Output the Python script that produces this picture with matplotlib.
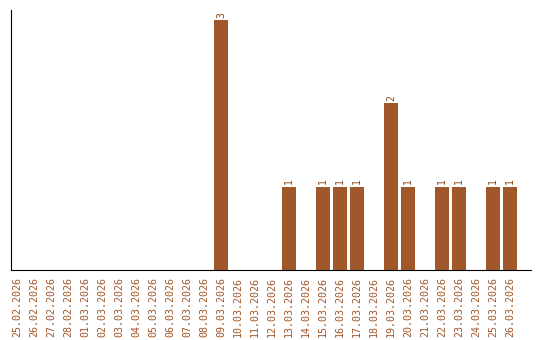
import matplotlib.pyplot as plt
import pandas as pd

dates = [d.strftime("%d.%m.%Y") for d in pd.date_range("2026-02-25", "2026-03-26")]
counts_by_date = {
    "09.03.2026": 3,
    "13.03.2026": 1,
    "15.03.2026": 1,
    "16.03.2026": 1,
    "17.03.2026": 1,
    "19.03.2026": 2,
    "20.03.2026": 1,
    "22.03.2026": 1,
    "23.03.2026": 1,
    "25.03.2026": 1,
    "26.03.2026": 1,
}
counts = [counts_by_date.get(d, 0) for d in dates]

color = "#A0572A"

fig = plt.figure(figsize=(5.4, 3.4), dpi=100)
ax = fig.add_axes([11 / 540, 70 / 340, 520 / 540, 260 / 340])

x = list(range(len(dates)))
ax.bar(x, counts, width=14 / 17, color=color)
for xi, c in zip(x, counts):
    if c > 0:
        ax.text(xi, c + 0.03, str(c), rotation=90, ha="center", va="bottom",
                fontsize=7, family="DejaVu Sans Mono", color="#8B4513")

ax.set_xlim(-6 / 17, 29 + 21 / 17)
ax.set_ylim(0, 3.12)
ax.set_xticks(x)
ax.set_xticklabels(dates, rotation=90, fontsize=7.2, family="DejaVu Sans Mono", color=color)
ax.tick_params(axis="x", length=0, pad=5)
ax.set_yticks([])
ax.spines["top"].set_visible(False)
ax.spines["right"].set_visible(False)

plt.savefig("out.png", dpi=100)
